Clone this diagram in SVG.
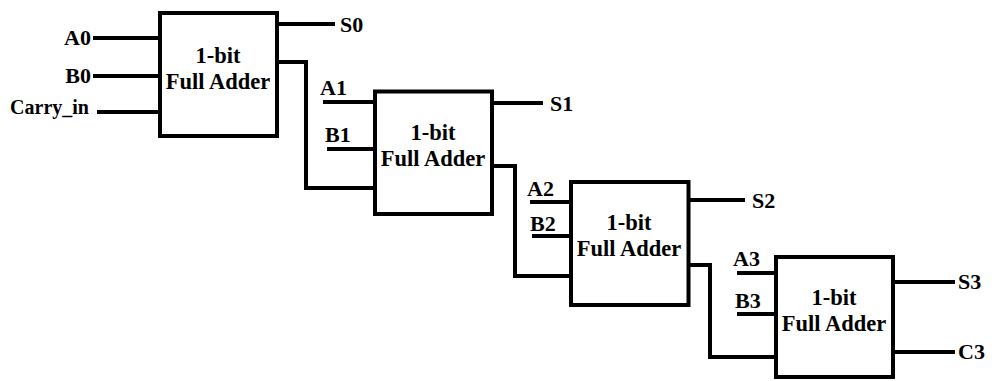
<svg xmlns="http://www.w3.org/2000/svg" width="992" height="381" viewBox="0 0 992 381">
  <style>
    .box { fill: #ffffff; stroke: #000000; stroke-width: 4; }
    .wire { fill: none; stroke: #000000; stroke-width: 4; stroke-linejoin: miter; }
    .title { font-family: "Liberation Serif", "Times New Roman", serif; font-weight: bold; font-size: 22.5px; fill: #000000; text-anchor: middle; }
    .lbl { font-family: "Liberation Serif", "Times New Roman", serif; font-weight: bold; font-size: 22px; fill: #000000; }
    .small { font-size: 20px; }
    .end { text-anchor: end; }
  </style>
  <rect width="992" height="381" fill="#ffffff"/>

  <!-- wires between ports -->
  <g id="connectors">
    <!-- stage 0 -->
    <path class="wire" d="M93 38 H160"/>
    <path class="wire" d="M93 76 H160"/>
    <path class="wire" d="M97 112 H160"/>
    <path class="wire" d="M277 24 H335"/>
    <path class="wire" d="M277 62 H306 V188 H375"/>
    <!-- stage 1 -->
    <path class="wire" d="M323 102 H375"/>
    <path class="wire" d="M327 149 H375"/>
    <path class="wire" d="M492 103 H543"/>
    <path class="wire" d="M492 166 H515 V276 H571"/>
    <!-- stage 2 -->
    <path class="wire" d="M530 202 H571"/>
    <path class="wire" d="M532 236 H571"/>
    <path class="wire" d="M688 200 H745"/>
    <path class="wire" d="M688 265 H710 V357 H776"/>
    <!-- stage 3 -->
    <path class="wire" d="M737 273 H776"/>
    <path class="wire" d="M737 314 H776"/>
    <path class="wire" d="M893 282 H955"/>
    <path class="wire" d="M893 352 H955"/>

    <!-- port labels -->
    <text class="lbl end" x="91" y="45">A0</text>
    <text class="lbl end" x="91" y="83">B0</text>
    <text class="lbl small end" x="89" y="114">Carry_in</text>
    <text class="lbl" x="340" y="32">S0</text>

    <text class="lbl" x="320" y="95">A1</text>
    <text class="lbl" x="325" y="142">B1</text>
    <text class="lbl" x="550" y="111">S1</text>

    <text class="lbl" x="527" y="196">A2</text>
    <text class="lbl" x="530" y="231">B2</text>
    <text class="lbl" x="752" y="208">S2</text>

    <text class="lbl" x="733" y="266">A3</text>
    <text class="lbl" x="735" y="308">B3</text>
    <text class="lbl" x="958" y="289">S3</text>
    <text class="lbl" x="958" y="359">C3</text>
  </g>

  <g id="fa0">
    <rect class="box" x="160" y="13" width="117" height="123"/>
    <text class="title" x="218" y="63">1-bit</text>
    <text class="title" x="218" y="88.5">Full Adder</text>
  </g>

  <g id="fa1">
    <rect class="box" x="375" y="91.5" width="117" height="122.5"/>
    <text class="title" x="433" y="140">1-bit</text>
    <text class="title" x="433" y="166">Full Adder</text>
  </g>

  <g id="fa2">
    <rect class="box" x="571" y="182" width="117.5" height="123"/>
    <text class="title" x="629" y="230">1-bit</text>
    <text class="title" x="629" y="256">Full Adder</text>
  </g>

  <g id="fa3">
    <rect class="box" x="776" y="257" width="117" height="120"/>
    <text class="title" x="834" y="305">1-bit</text>
    <text class="title" x="834" y="331">Full Adder</text>
  </g>
</svg>
